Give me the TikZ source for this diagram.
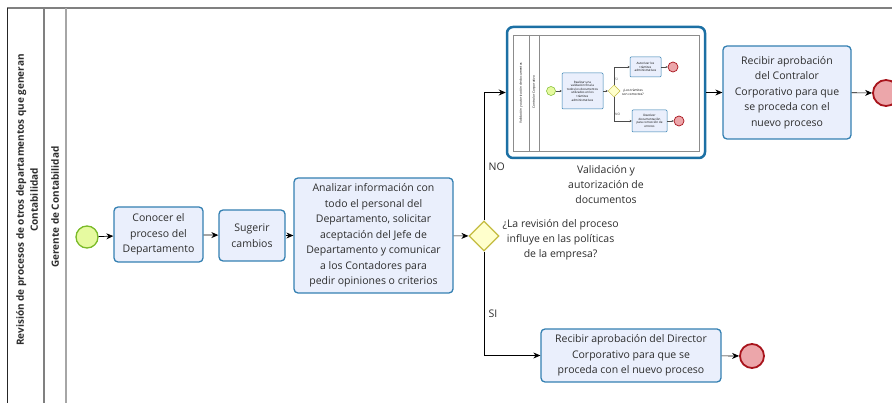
\documentclass[tikz,border=0pt]{standalone}
\usepackage{fontspec}
\setmainfont{Open Sans}
\usetikzlibrary{shapes.geometric, arrows.meta, positioning}
\definecolor{taskfill}{RGB}{234, 239, 252}
\definecolor{taskline}{RGB}{52, 128, 178}
\definecolor{gatefill}{RGB}{255, 255, 204}
\definecolor{gateline}{RGB}{196, 188, 64}
\definecolor{startfill}{RGB}{230, 250, 160}
\definecolor{startline}{RGB}{122, 186, 40}
\definecolor{endfill}{RGB}{236, 166, 170}
\definecolor{endline}{RGB}{168, 20, 28}
\definecolor{subline}{RGB}{28, 112, 164}
\definecolor{lanegray}{RGB}{128, 128, 128}
\definecolor{txtgray}{RGB}{45, 45, 45}

\begin{document}
\begin{tikzpicture}[x=1pt, y=-1pt,
  task/.style={draw=taskline, fill=taskfill, line width=1.3pt, rounded corners=4pt,
    align=center, text=txtgray, inner sep=0pt, font=\fontsize{10.5}{15.5}\selectfont},
  gate/.style={diamond, draw=gateline, fill=gatefill, line width=1.3pt, minimum size=30pt, inner sep=0pt},
  startev/.style={circle, draw=startline, fill=startfill, line width=1.3pt, minimum size=22pt, inner sep=0pt},
  endev/.style={circle, draw=endline, fill=endfill, line width=1.8pt, minimum size=25pt, inner sep=0pt},
  flow/.style={-{Stealth[length=7pt, width=6pt]}, black, line width=0.7pt},
  lbl/.style={text=txtgray, align=center, font=\fontsize{10.5}{15}\selectfont},
  minitask/.style={draw=taskline, fill=taskfill, line width=0.5pt, rounded corners=1pt,
    align=center, inner sep=0pt, font=\fontsize{3}{3.6}\selectfont},
  miniflow/.style={-{Stealth[length=2pt, width=2pt]}, black!70, line width=0.3pt},
  minilbl/.style={align=center, inner sep=0pt, font=\fontsize{3.2}{3.8}\selectfont}]
  \useasboundingbox (0,0) rectangle (892,403);

  % Pool and lane
  \draw[lanegray, line width=2pt] (7,8) -- (892,8);
  \draw[black!85, line width=1pt] (7,8) -- (7,403);
  \draw[lanegray, line width=2pt] (44,8) -- (44,403);
  \draw[black!35, line width=1.5pt] (66,8) -- (66,403);
  \node[rotate=90, align=center, font=\bfseries\fontsize{10}{14}\selectfont, text=txtgray]
    (pool) at (27,200) {Revisión de procesos de otros departamentos que generan\\Contabilidad};
  \node[rotate=90, font=\bfseries\fontsize{10}{14}\selectfont, text=txtgray]
    (lane) at (55,207) {Gerente de Contabilidad};

  % Main flow
  \node[startev] (start) at (87,237) {};
  \node[task, minimum width=89pt, minimum height=55pt] (conocer) at (158.5,234.5)
    {Conocer el\\proceso del\\Departamento};
  \node[task, minimum width=66pt, minimum height=51pt] (sugerir) at (252,235.5)
    {Sugerir\\cambios};
  \node[task, minimum width=159pt, minimum height=115pt] (analizar) at (373.5,235.5)
    {Analizar información con\\todo el personal del\\Departamento, solicitar\\aceptación del Jefe de\\Departamento y comunicar\\a los Contadores para\\pedir opiniones o criterios};
  \node[gate] (gw) at (484,236) {};
  \node[lbl, anchor=west] (gwtext) at (499,240)
    {¿La revisión del proceso\\influye en las políticas\\de la empresa?};

  \draw[flow] (start) -- (conocer);
  \draw[flow] (conocer) -- (sugerir);
  \draw[flow] (sugerir) -- (analizar);
  \draw[flow] (analizar) -- (gw);

  % NO branch: subprocess
  \node[draw=subline, line width=2.5pt, rounded corners=6pt, minimum width=198pt,
    minimum height=131pt, inner sep=0pt] (valida) at (606,92.5) {};
  \node[lbl, below=3pt of valida] (validatext) {Validación y\\autorización de\\documentos};
  \node[task, minimum width=128pt, minimum height=93pt] (contralor) at (787,92.5)
    {Recibir aprobación\\del Contralor\\Corporativo para que\\se proceda con el\\nuevo proceso};
  \node[endev, minimum size=26pt] (fin1) at (886,93) {};
  \draw[flow] (gw.north) |- node[lbl, pos=0.21, right=1pt] (no) {NO} (valida.west);
  \draw[flow] (valida) -- (contralor);
  \draw[flow] (contralor) -- (fin1);

  % SI branch
  \node[task, minimum width=180pt, minimum height=53pt] (director) at (631,355.5)
    {Recibir aprobación del Director\\Corporativo para que se\\proceda con el nuevo proceso};
  \node[endev, minimum size=24pt] (fin2) at (752,356) {};
  \draw[flow] (gw.south) |- node[lbl, pos=0.3, right=1pt] (si) {SI} (director.west);
  \draw[flow] (director) -- (fin2);

  % Subprocess preview
  \draw[black!45, line width=0.5pt, fill=white] (513,35) rectangle (699,151);
  \draw[black!45, line width=0.5pt] (529,35) -- (529,151);
  \draw[black!45, line width=0.5pt] (539,35) -- (539,151);
  \node[minilbl, rotate=90] (minipool) at (521,93) {Validación y autorización de documentos};
  \node[minilbl, rotate=90] (minilane) at (534,92) {Contralor Corporativo};
  \node[startev, line width=0.5pt, minimum size=9pt] (ministart) at (551,91) {};
  \node[minitask, minimum width=41pt, minimum height=36pt] (revisar) at (582.5,91)
    {Realizar una\\validación final a\\todos los documentos\\utilizados en los\\trámites\\administrativos};
  \node[gate, line width=0.5pt, minimum size=12pt] (minigw) at (614,91) {};
  \node[minilbl, anchor=west] (minigwtext) at (622,92) {¿Los trámites\\son correctos?};
  \node[minitask, minimum width=31pt, minimum height=20pt] (autorizar) at (645.5,67)
    {Autorizar los\\trámites\\administrativos};
  \node[minitask, minimum width=35pt, minimum height=22pt] (devolver) at (649.5,121)
    {Devolver\\documentación\\para corrección de\\errores};
  \node[endev, line width=0.7pt, minimum size=10pt] (minifin1) at (673,67) {};
  \node[endev, line width=0.7pt, minimum size=10pt] (minifin2) at (679,121) {};
  \draw[miniflow] (ministart) -- (revisar);
  \draw[miniflow] (revisar) -- (minigw);
  \draw[miniflow] (minigw.north) |- node[minilbl, pos=0.14, right=1pt] (minisi) {SI} (autorizar.west);
  \draw[miniflow] (minigw.south) |- node[minilbl, pos=0.35, right=1pt] (minino) {NO} (devolver.west);
  \draw[miniflow] (autorizar) -- (minifin1);
  \draw[miniflow] (devolver) -- (minifin2);
\end{tikzpicture}
\end{document}
